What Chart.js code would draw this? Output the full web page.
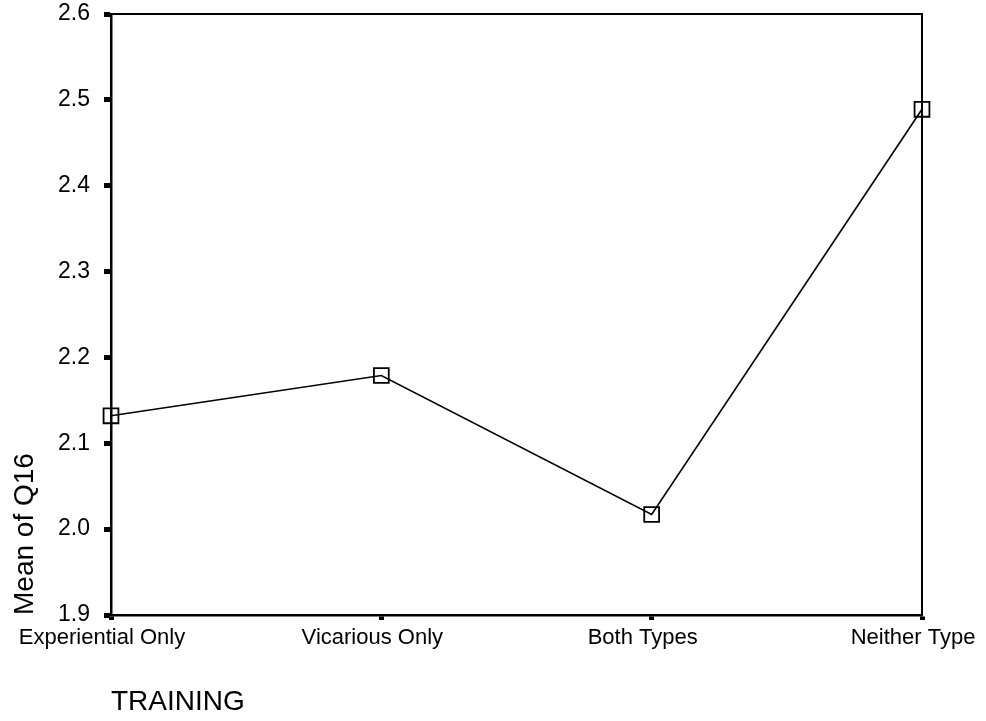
<!DOCTYPE html>
<html>
<head>
<meta charset="utf-8">
<script src="https://cdn.jsdelivr.net/npm/chart.js@4/dist/chart.umd.min.js"></script>
<style>
  html, body { margin: 0; padding: 0; background: #fff; }
  #wrap { width: 986px; height: 721px; position: relative; }
</style>
</head>
<body>
<div id="wrap"><canvas id="meanChart"></canvas></div>
<script>
// data
const categories = ['Experiential Only', 'Vicarious Only', 'Both Types', 'Neither Type'];
const meanQ16 = [2.132, 2.179, 2.017, 2.489];
const yTicks = [1.9, 2.0, 2.1, 2.2, 2.3, 2.4, 2.5, 2.6];

const FONT = '"Liberation Sans", Arial, Helvetica, sans-serif';

// top and right edges of the plot box
const frame = {
  id: 'frame',
  beforeDatasetsDraw(chart) {
    const { ctx, chartArea: a } = chart;
    ctx.save();
    ctx.strokeStyle = '#000';
    ctx.lineWidth = 2;
    ctx.beginPath();
    ctx.moveTo(a.left, a.top);
    ctx.lineTo(a.right, a.top);
    ctx.lineTo(a.right, a.bottom);
    ctx.stroke();
    ctx.restore();
  }
};

const ctx = document.getElementById('meanChart').getContext('2d');
new Chart(ctx, {
  type: 'line',
  data: {
    labels: categories,
    datasets: [{
      label: 'Mean of Q16',
      data: meanQ16,
      borderColor: '#000',
      borderWidth: 1.6,
      tension: 0,
      pointStyle: 'rect',
      pointRadius: 10.5,
      pointBorderWidth: 1.8,
      pointBorderColor: '#000',
      pointBackgroundColor: 'rgba(255,255,255,0)',
      clip: false
    }]
  },
  options: {
    responsive: true,
    maintainAspectRatio: false,
    animation: false,
    layout: { padding: { top: 14, right: 64, left: 0, bottom: 0 } },
    plugins: {
      legend: { display: false },
      tooltip: { enabled: false }
    },
    scales: {
      x: {
        type: 'category',
        offset: false,
        afterFit(s) { s.height = 106; s.paddingLeft = 0; s.paddingRight = 0; },
        grid: {
          offset: false,
          drawOnChartArea: false,
          drawTicks: true,
          tickLength: 5,
          tickWidth: 5,
          tickColor: '#000'
        },
        border: { display: true, color: '#000', width: 2.5 },
        ticks: {
          color: '#000',
          padding: 5,
          labelOffset: -9,
          maxRotation: 0,
          autoSkip: false,
          font: { family: FONT, size: 22 }
        },
        title: {
          display: true,
          text: 'TRAINING',
          align: 'start',
          color: '#000',
          padding: { top: 0, bottom: 2 },
          font: { family: FONT, size: 28 }
        }
      },
      y: {
        min: yTicks[0],
        max: yTicks[yTicks.length - 1],
        afterFit(s) { s.width = 111; s.paddingTop = 0; s.paddingBottom = 0; },
        afterBuildTicks(s) { s.ticks = yTicks.map(v => ({ value: v })); },
        grid: {
          drawOnChartArea: false,
          drawTicks: true,
          tickLength: 7,
          tickWidth: 5,
          tickColor: '#000'
        },
        border: { display: true, color: '#000', width: 2.5 },
        ticks: {
          color: '#000',
          padding: 14,
          font: { family: FONT, size: 23 },
          callback: v => Number(v).toFixed(1)
        },
        title: {
          display: true,
          text: 'Mean of Q16',
          align: 'start',
          color: '#000',
          padding: { top: 8, bottom: 0 },
          font: { family: FONT, size: 28 }
        }
      }
    }
  },
  plugins: [frame]
});
</script>
</body>
</html>
